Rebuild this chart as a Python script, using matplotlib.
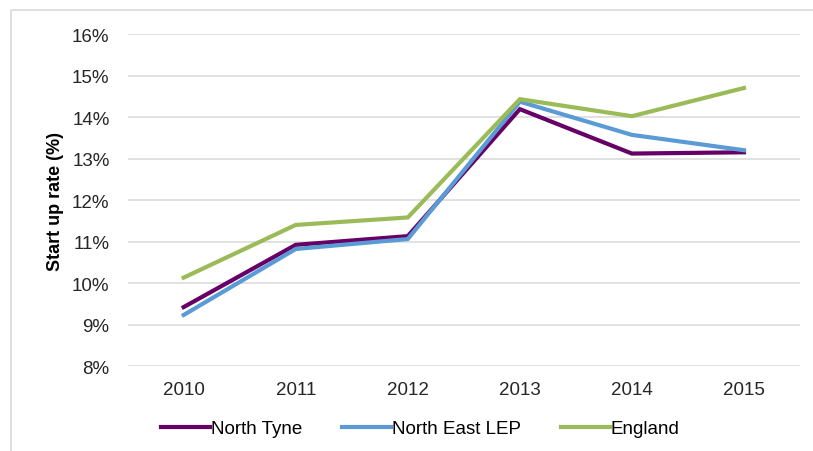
import matplotlib
matplotlib.use("Agg")
import matplotlib.pyplot as plt
from matplotlib.patches import Rectangle
from matplotlib.ticker import FuncFormatter

plt.rcParams['font.family'] = ['Liberation Sans', 'DejaVu Sans']

# 数据
years = ["2010", "2011", "2012", "2013", "2014", "2015"]
north_tyne = [9.42, 10.92, 11.13, 14.19, 13.12, 13.15]
north_east_lep = [9.23, 10.82, 11.06, 14.37, 13.57, 13.2]
england = [10.13, 11.40, 11.58, 14.43, 14.02, 14.70]

series = [
    ("North Tyne", north_tyne, "#660066"),
    ("North East LEP", north_east_lep, "#5B9BD5"),
    ("England", england, "#9BBB59"),
]

fig = plt.figure(figsize=(8.13, 4.52), dpi=100)
ax = fig.add_axes([0.157, 0.188, 0.827, 0.7345])

# 外框
fig.patches.append(Rectangle((11 / 813, -0.01), 1.0, 1 - 11 / 452 + 0.01,
                             transform=fig.transFigure, fill=False,
                             edgecolor="#D9D9D9", linewidth=1.2))

x = range(len(years))
for name, vals, color in series:
    ax.plot(x, vals, color=color, linewidth=3.0, label=name,
            solid_joinstyle="miter")

ax.set_xlim(-0.5, len(years) - 0.5)
ax.set_ylim(8, 16)
ax.set_yticks(range(8, 17))
ax.yaxis.set_major_formatter(FuncFormatter(lambda v, p: f"{int(v)}%"))
ax.set_xticks(list(x))
ax.set_xticklabels(years)

ax.grid(axis="y", color="#D9D9D9", linewidth=1.1)
ax.set_axisbelow(True)
for s in ax.spines.values():
    s.set_visible(False)
ax.tick_params(length=0, labelsize=13.5, colors="#262626")
ax.tick_params(axis="y", pad=13)
ax.tick_params(axis="x", pad=10.5)

ax.set_ylabel("Start up rate (%)", fontsize=13, fontweight="bold")
ax.yaxis.set_label_coords(-0.095, 0.5)

fig.legend(loc="center", bbox_to_anchor=(0.517, 0.049), ncol=3,
           frameon=False, fontsize=13.5, handlelength=2.6, handletextpad=0.05,
           columnspacing=2.15)

fig.savefig("out.png", dpi=100)
